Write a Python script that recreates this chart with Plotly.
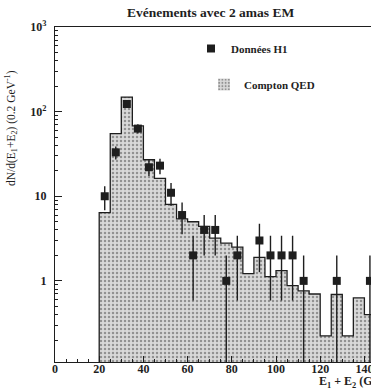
import numpy as np
import plotly.graph_objects as go

# ---- data ----
bin_low = [20, 25, 30, 35, 40, 45, 50, 55, 60, 65, 70, 75, 80, 85, 90, 95,
           100, 105, 110, 115, 120, 125, 130, 135, 140]
bin_width = 5
compton_qed = [6.4, 55, 148, 68, 27, 16.3, 8.0, 5.4, 5.0, 4.4, 3.2, 2.8, 2.5,
               1.22, 1.9, 1.12, 1.32, 0.88, 0.76, 0.70, 0.224, 0.69, 0.224, 0.63, 0.40]
data_h1 = [10, 33, 123, 63, 22, 23, 11, 6, 2, 4, 4, 1, 2, 0, 3, 2, 2, 2, 1,
           0, 0, 1, 0, 0, 1]
y_tickvals = [1, 10, 100, 1000]
y_ticktext = ["1", "10", "10<sup>2</sup>", "10<sup>3</sup>"]
x_tickvals = [0, 20, 40, 60, 80, 100, 120, 140]

centers = [b + bin_width / 2 for b in bin_low]
edges = [bin_low[0]] + bin_low + [bin_low[-1] + bin_width]
step_y = [0.01] + compton_qed + [compton_qed[-1]]

dx = [c for c, v in zip(centers, data_h1) if v > 0]
dy = [v for v in data_h1 if v > 0]
err_up = [float(np.sqrt(v)) for v in dy]
err_dn = [min(float(np.sqrt(v)), v - 1e-4) for v in dy]

FONT = "Liberation Serif"
INK = "#1e1e1e"

fig = go.Figure()
fig.add_trace(go.Bar(
    x=centers, y=compton_qed, width=bin_width, name="<b>Compton QED</b>",
    marker=dict(color="#cfcfcf", line=dict(width=0),
                pattern=dict(shape=".", fgcolor="#4a4a4a", bgcolor="#d9d9d9",
                             size=4, solidity=0.3)),
    legend="legend2",
))
fig.add_trace(go.Scatter(
    x=edges, y=step_y, mode="lines", line=dict(shape="hv", color=INK, width=1.3),
    showlegend=False, hoverinfo="skip",
))
fig.add_trace(go.Scatter(
    x=dx, y=dy, mode="markers", name="<b>Données H1</b>",
    marker=dict(symbol="square", size=8, color=INK),
    error_y=dict(type="data", array=err_up, arrayminus=err_dn, color=INK,
                 thickness=1.4, width=0),
    error_x=dict(type="constant", value=1.4, color=INK, thickness=1.2, width=0),
    legend="legend",
))

W, H = 371, 391
L, R, T, B = 55, 0, 27, 29
pw, ph = W - L - R, H - T - B


def px(x):
    return (x - L) / pw


def py(y):
    return (H - B - y) / ph


tick_font = dict(family=FONT, size=12, color=INK, weight="bold")

fig.update_layout(
    width=W, height=H,
    margin=dict(l=L, r=R, t=T, b=B, autoexpand=False),
    paper_bgcolor="white", plot_bgcolor="white",
    font=dict(family=FONT, size=11, color=INK),
    showlegend=True,
    bargap=0,
    legend=dict(x=px(191), y=py(34), xanchor="left", yanchor="top",
                bgcolor="rgba(0,0,0,0)", font=dict(family=FONT, size=11, color=INK),
                itemwidth=30),
    legend2=dict(x=px(204), y=py(70), xanchor="left", yanchor="top",
                 bgcolor="rgba(0,0,0,0)", font=dict(family=FONT, size=11, color=INK),
                 itemwidth=30),
    xaxis=dict(range=[0, (W - L) / 2.21], showline=True, linecolor=INK, linewidth=1.3,
               mirror=True, ticks="inside", ticklen=6, tickwidth=1, tickcolor=INK,
               tickvals=x_tickvals, showgrid=False, zeroline=False,
               tickfont=tick_font, ticklabeloverflow="allow", ticklabelstandoff=-5,
               minor=dict(ticks="inside", ticklen=3, dtick=5, tick0=0, tickcolor=INK),
               automargin=False),
    yaxis=dict(type="log", range=[np.log10(0.11), 3], showline=True, linecolor=INK,
               linewidth=1.3, mirror=False, ticks="inside", ticklen=7, tickwidth=1,
               tickcolor=INK, tickvals=y_tickvals, ticktext=y_ticktext,
               showgrid=False, zeroline=False, ticklabelstandoff=5,
               tickfont=tick_font, ticklabeloverflow="allow",
               minor=dict(ticks="inside", ticklen=3, tickcolor=INK,
                          tickvals=[k * 10.0 ** d for d in range(-1, 3) for k in range(2, 10)]),
               automargin=False),
    annotations=[
        dict(text="<b>Evénements avec 2 amas EM</b>", xref="paper", yref="paper",
             x=px(210), y=py(12), xanchor="center", yanchor="middle",
             showarrow=False, font=dict(family=FONT, size=13.5, color=INK)),
        dict(text="dN/d(E<sub>1</sub>+E<sub>2</sub>) (0.2 GeV<sup>-1</sup>)",
             xref="paper", yref="paper", x=px(11), y=py(128), textangle=-90,
             xanchor="center", yanchor="middle", showarrow=False,
             font=dict(family=FONT, size=11.5, color=INK)),
        dict(text="<b>E<sub>1</sub> + E<sub>2</sub> (GeV)</b>", xref="paper", yref="paper",
             x=px(317), y=py(382), xanchor="left", yanchor="middle",
             showarrow=False, font=dict(family=FONT, size=12, color=INK)),
    ],
)

fig.write_html("out.html",
               config={"displayModeBar": False},
               post_script="document.body.style.margin='0px';"
                           "document.body.style.overflow='hidden';")
